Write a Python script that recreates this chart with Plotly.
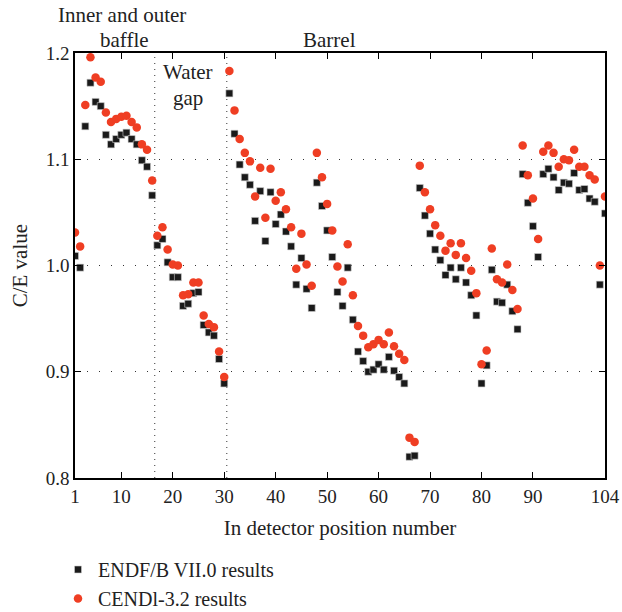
import plotly.graph_objects as go

positions = list(range(1, 105))

endf_values = [
    1.009, 0.998, 1.131, 1.172, 1.154, 1.150, 1.123, 1.114, 1.119, 1.123,
    1.125, 1.119, 1.114, 1.099, 1.093, 1.066, 1.019, 1.025, 1.003, 0.989,
    0.989, 0.962, 0.964, 0.974, 0.975, 0.944, 0.937, 0.934, 0.912, 0.889,
    1.162, 1.124, 1.095, 1.083, 1.076, 1.042, 1.070, 1.023, 1.069, 1.039,
    1.048, 1.032, 1.018, 0.982, 1.007, 0.978, 0.960, 1.078, 1.056, 1.033,
    1.008, 0.975, 0.962, 0.998, 0.949, 0.919, 0.910, 0.900, 0.902, 0.907,
    0.902, 0.914, 0.901, 0.895, 0.889, 0.820, 0.821, 1.073, 1.047, 1.030,
    1.015, 1.005, 0.991, 0.998, 0.987, 0.998, 0.984, 0.972, 0.953, 0.889,
    0.906, 0.996, 0.966, 0.965, 0.982, 0.957, 0.940, 1.086, 1.059, 1.037,
    1.008, 1.086, 1.091, 1.083, 1.071, 1.078, 1.077, 1.087, 1.071, 1.072,
    1.063, 1.060, 0.982, 1.049,
]

cendl_values = [
    1.031, 1.018, 1.151, 1.196, 1.177, 1.173, 1.144, 1.135, 1.138, 1.140,
    1.141, 1.135, 1.130, 1.114, 1.109, 1.080, 1.028, 1.036, 1.015, 1.001,
    1.000, 0.972, 0.973, 0.984, 0.984, 0.953, 0.945, 0.942, 0.919, 0.895,
    1.183, 1.146, 1.119, 1.106, 1.098, 1.065, 1.092, 1.045, 1.091, 1.061,
    1.069, 1.053, 1.036, 0.997, 1.030, 1.001, 0.981, 1.106, 1.083, 1.058,
    1.033, 0.999, 0.985, 1.020, 0.972, 0.943, 0.934, 0.923, 0.926, 0.930,
    0.926, 0.937, 0.924, 0.917, 0.911, 0.838, 0.834, 1.094, 1.069, 1.053,
    1.038, 1.028, 1.014, 1.021, 1.010, 1.021, 1.007, 0.995, 0.974, 0.907,
    0.920, 1.016, 0.987, 0.984, 1.001, 0.977, 0.959, 1.113, 1.085, 1.063,
    1.025, 1.107, 1.113, 1.106, 1.093, 1.100, 1.099, 1.109, 1.093, 1.093,
    1.085, 1.081, 1.000, 1.065,
]

x_tick_values = [1, 10, 20, 30, 40, 50, 60, 70, 80, 90, 104]
x_tick_labels = ["1", "10", "20", "30", "40", "50", "60", "70", "80", "90", "104"]
y_tick_values = [0.8, 0.9, 1.0, 1.1, 1.2]
y_tick_labels = ["0.8", "0.9", "1.0", "1.1", "1.2"]
region_boundaries = [16.5, 30.5]

FONT = "Liberation Serif"
BLACK = "#1a1a1a"
RED = "#ef3e23"
TXT = "#222222"

fig = go.Figure()
fig.add_trace(go.Scatter(
    x=positions, y=endf_values, mode="markers", name="ENDF/B VII.0 results",
    marker=dict(symbol="square", size=7, color=BLACK,
                line=dict(width=0.6, color="#cccccc")),
))
fig.add_trace(go.Scatter(
    x=positions, y=cendl_values, mode="markers", name="CENDl-3.2 results",
    marker=dict(symbol="circle", size=8.5, color=RED, line=dict(width=0)),
))

for b in region_boundaries:
    fig.add_shape(type="line", xref="x", yref="paper", x0=b, x1=b, y0=0, y1=1,
                  line=dict(color="#333333", width=1, dash="1px,5px"), layer="below")

ann_font = dict(family=FONT, size=21, color=TXT)
texts = [
    ("Inner and outer", 10.2, 15),
    ("baffle", 10.6, 40),
    ("Barrel", 50.5, 40),
    ("Water", 23.0, 72),
    ("gap", 23.0, 98),
]
for t, xv, py in texts:
    fig.add_annotation(text=t, x=xv, xref="x", y=(478 - py) / 425.3, yref="paper",
                       showarrow=False, font=ann_font, xanchor="center", yanchor="middle")

# y-axis title
fig.add_annotation(text="C/E value", x=(20 - 75) / 530, xref="paper", y=0.498, yref="paper",
                   showarrow=False, textangle=-90, font=ann_font,
                   xanchor="center", yanchor="middle")

fig.update_layout(
    width=622, height=612,
    margin=dict(l=75, r=17, t=53, b=134, autoexpand=False),
    paper_bgcolor="white", plot_bgcolor="white",
    font=dict(family=FONT, size=19, color=TXT),
    showlegend=True,
    legend=dict(x=58 / 622, y=1 - 550 / 612, xref="container", yref="container",
                xanchor="left", yanchor="top",
                font=dict(family=FONT, size=20, color=TXT),
                bgcolor="rgba(0,0,0,0)", tracegroupgap=0, itemwidth=30),
    xaxis=dict(
        range=[1, 104], tickmode="array", tickvals=x_tick_values, ticktext=x_tick_labels,
        showgrid=False, zeroline=False, showline=True, linecolor="black", linewidth=1.5,
        mirror="ticks", ticks="inside", ticklen=6, tickwidth=1.2, tickcolor="black",
        title=dict(text="In detector position number", font=dict(family=FONT, size=21)),
        tickfont=dict(family=FONT, size=19), automargin=False,
    ),
    yaxis=dict(
        range=[0.8, 1.2], tickmode="array", tickvals=y_tick_values, ticktext=y_tick_labels,
        showgrid=True, gridcolor="#333333", gridwidth=1, griddash="1px,11px",
        zeroline=False, showline=True, linecolor="black", linewidth=1.5,
        mirror="ticks", ticks="inside", ticklen=6, tickwidth=1.2, tickcolor="black",
        tickfont=dict(family=FONT, size=19), automargin=False,
    ),
)

fig.write_html("out.html")
